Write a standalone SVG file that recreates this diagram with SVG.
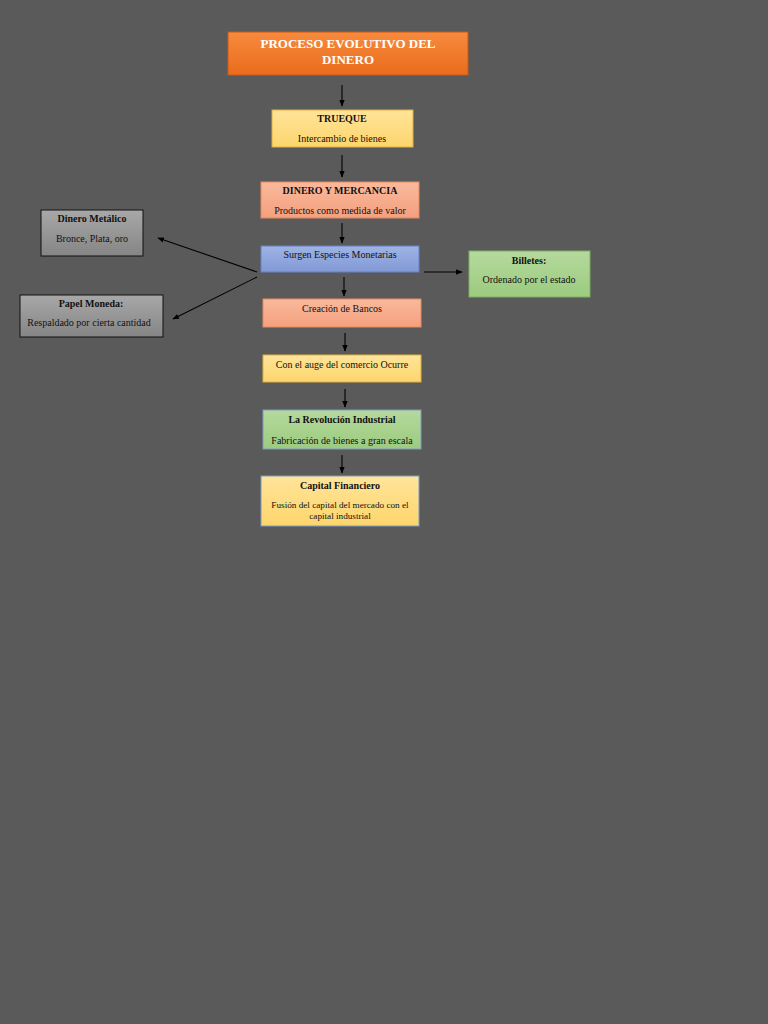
<svg xmlns="http://www.w3.org/2000/svg" width="768" height="1024" viewBox="0 0 768 1024">
<defs>
<linearGradient id="gOr" x1="0" y1="0" x2="0" y2="1"><stop offset="0" stop-color="#f78a3e"/><stop offset="1" stop-color="#ea6c1c"/></linearGradient>
<linearGradient id="gYe" x1="0" y1="0" x2="0" y2="1"><stop offset="0" stop-color="#ffe49a"/><stop offset="1" stop-color="#fdd56c"/></linearGradient>
<linearGradient id="gSa" x1="0" y1="0" x2="0" y2="1"><stop offset="0" stop-color="#f9b99c"/><stop offset="1" stop-color="#f4a07e"/></linearGradient>
<linearGradient id="gBl" x1="0" y1="0" x2="0" y2="1"><stop offset="0" stop-color="#9fb3e4"/><stop offset="1" stop-color="#8199d6"/></linearGradient>
<linearGradient id="gGr" x1="0" y1="0" x2="0" y2="1"><stop offset="0" stop-color="#b5d99c"/><stop offset="1" stop-color="#9ccb7f"/></linearGradient>
<linearGradient id="gGy" x1="0" y1="0" x2="0" y2="1"><stop offset="0" stop-color="#a8a8a8"/><stop offset="1" stop-color="#858585"/></linearGradient>
<marker id="ah" viewBox="0 0 10 10" refX="9" refY="5" markerWidth="6" markerHeight="6" orient="auto"><path d="M0,1 L10,5 L0,9 z" fill="#000"/></marker>
</defs>
<style>
text{font-family:"Liberation Serif","Times New Roman",serif;font-size:10px;fill:#111;text-anchor:middle}
.b{font-weight:bold}
.t{font-size:13px;font-weight:bold;fill:#fff}
.s{font-size:9.2px}
.cn line{stroke:#000;stroke-width:1.1;marker-end:url(#ah)}
</style>
<rect width="768" height="1024" fill="#5a5a5a"/>
<g class="cn">
<line x1="342" y1="85" x2="342" y2="106"/>
<line x1="342" y1="155" x2="342" y2="177"/>
<line x1="342" y1="223" x2="342" y2="243"/>
<line x1="344" y1="277" x2="344" y2="296"/>
<line x1="345" y1="333" x2="345" y2="351"/>
<line x1="345" y1="389" x2="345" y2="407"/>
<line x1="342" y1="455" x2="342" y2="473"/>
<line x1="257" y1="272" x2="158" y2="238"/>
<line x1="257" y1="277" x2="173" y2="319"/>
<line x1="424" y1="272" x2="462" y2="272"/>
</g>
<g id="titulo"><rect x="228" y="32" width="240" height="43" fill="url(#gOr)" stroke="#c85a14" stroke-width="1"/><text class="t" x="348" y="48">PROCESO EVOLUTIVO DEL</text><text class="t" x="348" y="64">DINERO</text></g>
<g id="trueque"><rect x="272" y="110" width="141" height="37" fill="url(#gYe)" stroke="#e0b03c" stroke-width="1"/><text class="b" x="342" y="122">TRUEQUE</text><text x="342" y="142">Intercambio de bienes</text></g>
<g id="dinero-mercancia"><rect x="261" y="182" width="158" height="36" fill="url(#gSa)" stroke="#e58a62" stroke-width="1"/><text class="b" x="340" y="194">DINERO Y MERCANCIA</text><text x="340" y="214">Productos como medida de valor</text></g>
<g id="surgen"><rect x="261" y="246" width="158" height="26" fill="url(#gBl)" stroke="#6482c8" stroke-width="1"/><text x="340" y="258">Surgen Especies Monetarias</text></g>
<g id="bancos"><rect x="263" y="299" width="158" height="28" fill="url(#gSa)" stroke="#e58a62" stroke-width="1"/><text x="342" y="312">Creación de Bancos</text></g>
<g id="auge"><rect x="263" y="355" width="158" height="27" fill="url(#gYe)" stroke="#e0b03c" stroke-width="1"/><text x="342" y="368">Con el auge del comercio Ocurre</text></g>
<g id="revolucion"><rect x="263" y="410" width="158" height="39" fill="url(#gGr)" stroke="#7a9cc6" stroke-width="1"/><text class="b" x="342" y="423">La Revolución Industrial</text><text x="342" y="444">Fabricación de bienes a gran escala</text></g>
<g id="capital"><rect x="261" y="476" width="158" height="50" fill="url(#gYe)" stroke="#7a9cc6" stroke-width="1"/><text class="b" x="340" y="489">Capital Financiero</text><text class="s" x="340" y="508">Fusión del capital del mercado con el</text><text class="s" x="340" y="519">capital industrial</text></g>
<g id="metalico"><rect x="41" y="210" width="102" height="46" fill="url(#gGy)" stroke="#111" stroke-width="1"/><text class="b" x="92" y="222">Dinero Metálico</text><text x="92" y="242">Bronce, Plata, oro</text></g>
<g id="papel"><rect x="20" y="295" width="143" height="42" fill="url(#gGy)" stroke="#111" stroke-width="1"/><text class="b" x="91" y="307">Papel Moneda:</text><text x="89" y="326">Respaldado por cierta cantidad</text></g>
<g id="billetes"><rect x="469" y="251" width="121" height="46" fill="url(#gGr)" stroke="#7fae62" stroke-width="1"/><text class="b" x="529" y="264">Billetes:</text><text x="529" y="283">Ordenado por el estado</text></g>
</svg>
